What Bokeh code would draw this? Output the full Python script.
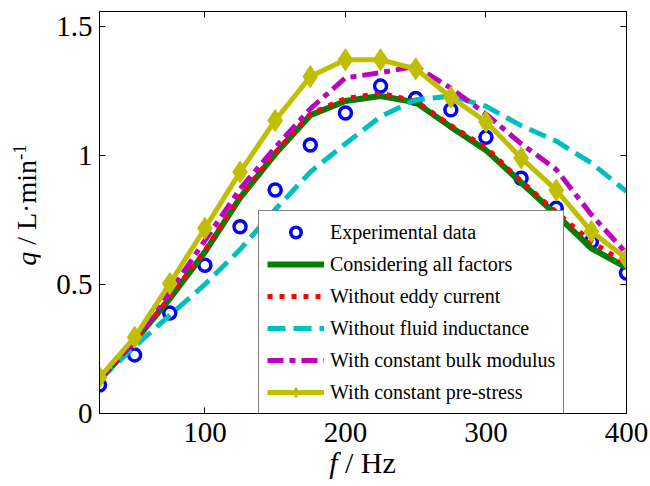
from bokeh.plotting import figure
from bokeh.models import (Legend, LegendItem, LinearAxis, FixedTicker,
                          CustomJSTickFormatter, Range1d, Div)
from bokeh.layouts import row, column
from bokeh.embed import file_html
from bokeh.resources import INLINE

# ---------------- data ----------------
freq = [25, 50, 75, 100, 125, 150, 175, 200, 225, 250, 275, 300, 325, 350, 375, 400]

experimental = [0.11, 0.227, 0.389, 0.574, 0.723, 0.866, 1.04, 1.164, 1.268, 1.22,
                1.176, 1.07, 0.911, 0.795, 0.665, 0.544]
all_factors = [0.13, 0.28, 0.445, 0.625, 0.835, 1.005, 1.155, 1.21, 1.23, 1.205,
               1.11, 1.02, 0.895, 0.77, 0.64, 0.565]
no_eddy = [0.13, 0.28, 0.45, 0.63, 0.84, 1.01, 1.16, 1.22, 1.24, 1.21,
           1.115, 1.03, 0.90, 0.78, 0.665, 0.58]
no_inductance = [0.13, 0.26, 0.38, 0.50, 0.635, 0.79, 0.935, 1.045, 1.15, 1.215,
                 1.23, 1.19, 1.115, 1.055, 0.97, 0.86]
const_bulk = [0.13, 0.28, 0.47, 0.67, 0.87, 1.03, 1.18, 1.30, 1.32, 1.345,
              1.26, 1.16, 1.045, 0.945, 0.77, 0.62]
const_prestress = [0.14, 0.295, 0.503, 0.717, 0.935, 1.135, 1.305, 1.37, 1.37, 1.335,
                   1.225, 1.13, 0.99, 0.865, 0.705, 0.60]

labels = ["Experimental data", "Considering all factors", "Without eddy current",
          "Without fluid inductance", "With constant bulk modulus",
          "With constant pre-stress"]

x_ticks = [100, 200, 300, 400]
y_ticks = [0, 0.5, 1, 1.5]

FONT = "Liberation Serif"
TICK_PX = "29px"
TITLE_PX = 30
YTITLE_PX = 28

p = figure(width=610, height=456, output_backend="svg", toolbar_location=None,
           x_range=Range1d(25, 400), y_range=Range1d(0, 1.557),
           min_border_left=59, min_border_right=24, min_border_top=11,
           min_border_bottom=43, margin=0)
p.grid.visible = False
p.outline_line_color = "black"
p.outline_line_width = 1
p.background_fill_color = "white"
p.border_fill_color = "white"

fmt = CustomJSTickFormatter(code="return tick.toString()")
for ax in (p.xaxis[0], p.yaxis[0]):
    ax.major_label_text_font = FONT
    ax.major_label_text_font_size = TICK_PX
    ax.major_label_text_color = "black"
    ax.major_tick_in = 6
    ax.major_tick_out = 0
    ax.minor_tick_line_color = None
    ax.axis_line_color = "black"
    ax.major_tick_line_color = "black"
    ax.formatter = fmt
p.xaxis[0].ticker = FixedTicker(ticks=x_ticks)
p.yaxis[0].ticker = FixedTicker(ticks=y_ticks)
p.xaxis[0].major_label_standoff = 9
p.yaxis[0].major_label_standoff = 7

blank = CustomJSTickFormatter(code="return ''")
top_ax = LinearAxis(ticker=FixedTicker(ticks=x_ticks), formatter=blank)
right_ax = LinearAxis(ticker=FixedTicker(ticks=y_ticks), formatter=blank)
for ax in (top_ax, right_ax):
    ax.major_label_text_font_size = "1px"
    ax.major_label_standoff = 0
    ax.major_tick_in = 6
    ax.major_tick_out = 0
    ax.minor_tick_line_color = None
    ax.axis_line_color = "black"
p.add_layout(top_ax, "above")
p.add_layout(right_ax, "right")

# ---------------- series ----------------
r_exp = p.scatter(freq, experimental, marker="circle", size=12, fill_color=None,
                  line_color="#0000ff", line_width=3.5)
r_all = p.line(freq, all_factors, line_color="#008000", line_width=6)
r_eddy = p.line(freq, no_eddy, line_color="#ff0000", line_width=5, line_dash="5 7")
r_ind = p.line(freq, no_inductance, line_color="#00bfbf", line_width=5, line_dash="18 8")
r_bulk = p.line(freq, const_bulk, line_color="#bf00bf", line_width=5, line_dash="16 6 6 6")
r_pre = p.line(freq, const_prestress, line_color="#bfbf00", line_width=5)
r_pre_m = p.scatter(freq, const_prestress, marker="diamond", size=22,
                    fill_color="#bfbf00", line_color="#bfbf00", line_width=1)

legend = Legend(items=[
    LegendItem(label=labels[0], renderers=[r_exp]),
    LegendItem(label=labels[1], renderers=[r_all]),
    LegendItem(label=labels[2], renderers=[r_eddy]),
    LegendItem(label=labels[3], renderers=[r_ind]),
    LegendItem(label=labels[4], renderers=[r_bulk]),
    LegendItem(label=labels[5], renderers=[r_pre, r_pre_m]),
], location=(159, -1))
legend.label_text_font = FONT
legend.label_text_font_size = "20px"
legend.label_text_color = "black"
legend.glyph_width = 57
legend.glyph_height = 26
legend.label_height = 26
legend.spacing = 6
legend.padding = 8
legend.label_standoff = 6
legend.margin = 0
legend.border_line_color = "black"
legend.border_line_width = 1
legend.background_fill_color = "white"
legend.background_fill_alpha = 1
p.add_layout(legend, "center")

# ---------------- axis titles (HTML text with italic / superscript) ----------------
def font_css(px):
    return (f"font-family:'{FONT}',serif; font-size:{px}px; line-height:{px}px; "
            f"color:black; white-space:nowrap;")

ylab = Div(
    text=(f'<div style="position:absolute; left:27px; top:205px; '
          f'transform:translate(-50%,-50%) rotate(-90deg); {font_css(YTITLE_PX)}">'
          f'<i>q</i> / L&middot;min<sup style="font-size:19px; line-height:0;">-1</sup></div>'),
    width=40, height=486, margin=0, styles={"overflow": "visible"})

xlab = Div(
    text=(f'<div style="position:relative; top:-8px; margin-left:35px; width:575px; '
          f'text-align:center; {font_css(TITLE_PX)}"><i>f</i> / Hz</div>'),
    width=610, height=30, margin=0, styles={"overflow": "visible"})

layout = row(ylab, column(p, xlab, spacing=0, margin=0), spacing=0, margin=0)

open("out.html", "w").write(file_html(layout, INLINE))
